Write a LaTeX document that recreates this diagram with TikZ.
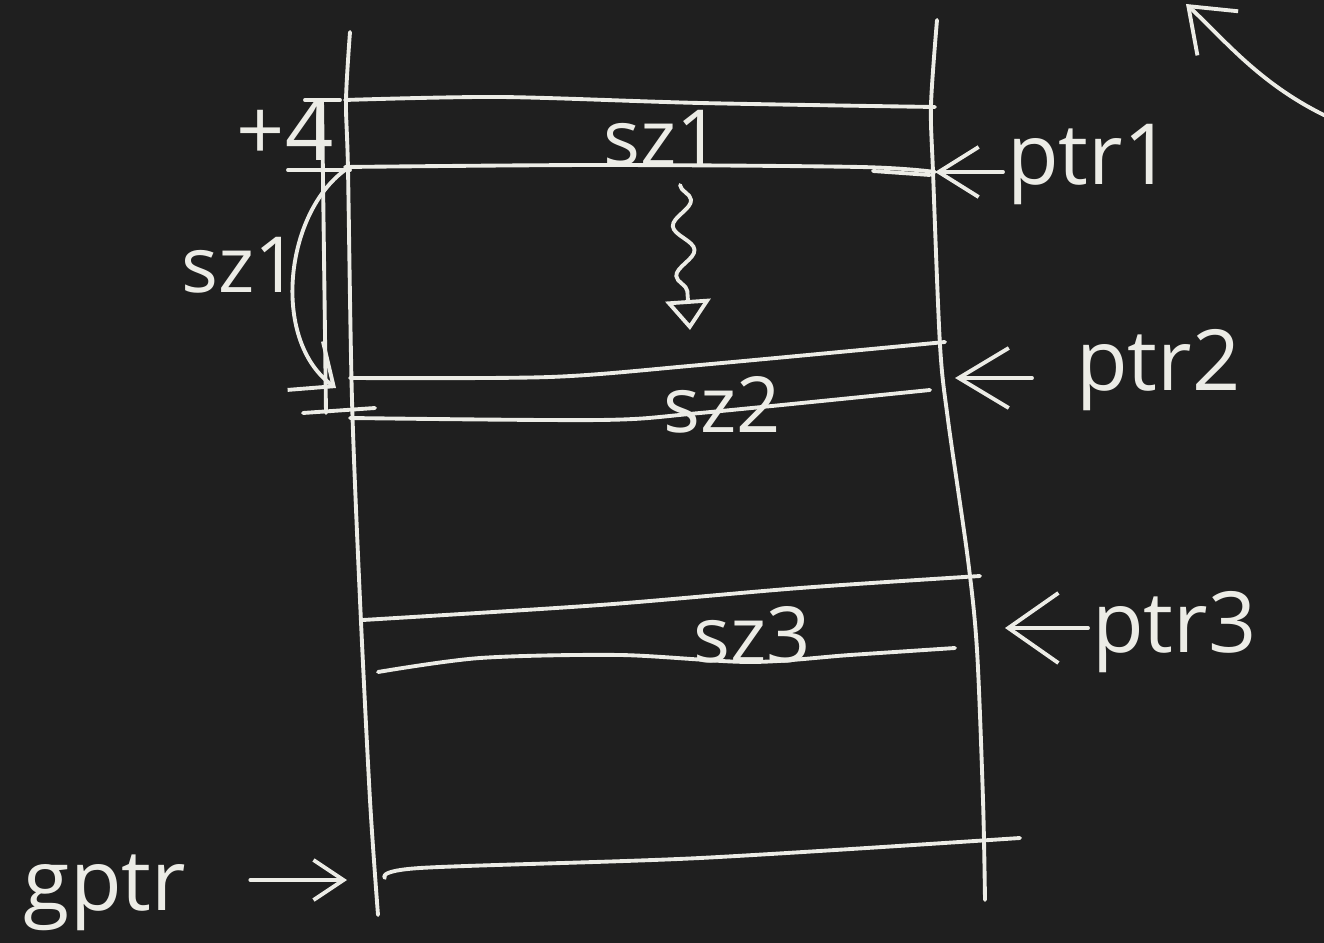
\documentclass[tikz,border=0pt]{standalone}
\usepackage{fontspec}
\setmainfont{Open Sans}
\usetikzlibrary{arrows.meta,decorations.pathmorphing}
\definecolor{board}{HTML}{1F1F1F}
\definecolor{chalk}{HTML}{ECECE6}
\tikzset{
  ink/.style={draw=chalk, line width=1.1pt, line cap=round, line join=round},
  barb/.style 2 args={ink, -{Straight Barb[length=#1, width=#2]}},
  chalktext/.style={text=chalk, inner sep=1pt, font=\fontsize{24}{28}\selectfont},
}
\begin{document}
\begin{tikzpicture}[x=0.01cm, y=-0.01cm]
                \fill [board] (0,0) rectangle (1324,943);
                \clip (0,0) rectangle (1324,943);

                \draw [ink] plot [smooth] coordinates {(350,32) (346,100) (348,170) (352,400) (360,600) (370,800) (378,915)};
                \draw [ink] plot [smooth] coordinates {(937,20) (931,105) (933,172) (940,345) (948,420) (968,560) (977,650) (983,800) (985,900)};

                \draw [ink] plot [smooth] coordinates {(345,100) (500,97) (700,103) (935,107)};
                \draw [ink] plot [smooth] coordinates {(345,167) (600,165) (860,167) (935,172)};
                \draw [ink] (873,171) -- (930,175);
                \draw [ink] plot [smooth] coordinates {(350,378) (550,377) (700,365) (945,342)};
                \draw [ink] plot [smooth] coordinates {(350,418) (600,420) (700,413) (930,390)};
                \draw [ink] plot [smooth] coordinates {(363,620) (600,605) (800,588) (980,576)};
                \draw [ink] plot [smooth] coordinates {(378,672) (480,658) (620,655) (750,662) (850,655) (955,648)};
                \draw [ink] plot [smooth] coordinates {(385,878) (420,868) (700,858) (1020,838)};

                \draw [ink] (322,100) -- (326,413);
                \draw [ink] (305,100) -- (340,100);
                \draw [ink] (288,170) -- (350,170);
                \draw [ink] (303,413) -- (375,408);

                \node [chalktext] (plus4) at (285,130) {+4};
                \node [chalktext, font=\fontsize{22}{26}\selectfont] (sz1top) at (662,138) {sz1};
                \node [chalktext, font=\fontsize{22}{26}\selectfont] (sz1side) at (240,265) {sz1};
                \node [chalktext, font=\fontsize{22}{26}\selectfont] (sz2) at (722,405) {sz2};
                \node [chalktext, font=\fontsize{22}{26}\selectfont] (sz3) at (752,635) {sz3};
                \node [chalktext, anchor=west] (ptr1) at (1003,165) {ptr1};
                \node [chalktext, anchor=west] (ptr2) at (1072,370) {ptr2};
                \node [chalktext, anchor=west] (ptr3) at (1088,632) {ptr3};
                \node [chalktext] (gptr) at (105,893) {gptr};

                \coordinate (ptr1 end) at (935,172);
                \coordinate (ptr2 end) at (955,378);
                \coordinate (ptr3 end) at (1005,628);
                \coordinate (gptr end) at (347,880);
                \coordinate (sz1 start) at (348,168);
                \coordinate (sz1 end) at (336,388);
                \coordinate (squig start) at (680,185);
                \coordinate (squig end) at (690,330);
                \coordinate (corner start) at (1330,118);
                \coordinate (corner end) at (1186,4);

                \draw [barb={4mm}{5mm}] (ptr1.west |- ptr1 end) -- (ptr1 end);
                \draw [barb={5mm}{6mm}, shorten <=4mm] (ptr2.west |- ptr2 end) -- (ptr2 end);
                \draw [barb={5mm}{7mm}] (ptr3.west |- ptr3 end) -- (ptr3 end);
                \draw [barb={3mm}{4mm}, shorten <=6mm] (gptr.east |- gptr end) -- (gptr end);
                \draw [barb={3.5mm}{6mm}] (sz1 start) .. controls (285,210) and (270,340) .. (sz1 end);
                \draw [ink, decorate, decoration={snake, amplitude=1mm, segment length=5mm, post length=3mm},
                       -{Triangle[open, length=3mm, width=4.5mm]}] (squig start) -- (squig end);
                \draw [barb={4mm}{6mm}] (corner start) .. controls (1260,85) and (1225,40) .. (corner end);
\end{tikzpicture}
\end{document}
